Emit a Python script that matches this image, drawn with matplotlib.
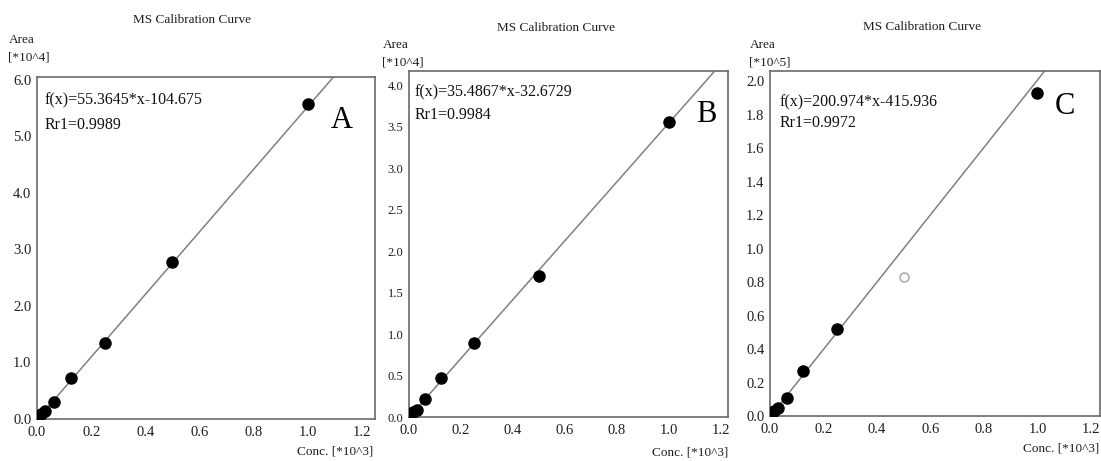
import numpy as np
import matplotlib
matplotlib.use("Agg")
import matplotlib.pyplot as plt

plt.rcParams['font.family'] = ['Liberation Serif', 'DejaVu Serif']

# Calibration standards, concentration in units of 10^3
conc = [0.0078, 0.0156, 0.03125, 0.0625, 0.125, 0.25, 0.5, 1.0]

# Peak areas for each compound (scaled units shown on the axis)
area_a = [0.03, 0.08, 0.14, 0.30, 0.72, 1.35, 2.78, 5.58]
area_b = [0.03, 0.06, 0.09, 0.22, 0.47, 0.89, 1.70, 3.55]
area_c = [0.015, 0.03, 0.05, 0.11, 0.27, 0.52, 0.83, 1.93]
excluded_c = [False, False, False, False, False, False, True, False]

# Regression parameters (raw units)
slope = [55.3645, 35.4867, 200.974]
intercept = [-104.675, -32.6729, -415.936]
r_value = ["0.9989", "0.9984", "0.9972"]
y_scale_exp = [4, 4, 5]
panel_letters = ["A", "B", "C"]

y_ticks = [
    [0.0, 1.0, 2.0, 3.0, 4.0, 5.0, 6.0],
    [0.0, 0.5, 1.0, 1.5, 2.0, 2.5, 3.0, 3.5, 4.0],
    [0.0, 0.2, 0.4, 0.6, 0.8, 1.0, 1.2, 1.4, 1.6, 1.8, 2.0],
]
y_top = [6.05, 4.17, 2.06]
x_ticks = [0.0, 0.2, 0.4, 0.6, 0.8, 1.0, 1.2]
x_right = [1.248, 1.227, 1.234]

W, H = 1101, 461
fig = plt.figure(figsize=(W / 100, H / 100), dpi=100)

# axes boxes in pixels: left, right, top, bottom
boxes = [(37, 375, 77, 419), (409, 728, 71, 417), (770, 1100, 71, 416)]
titles_xy = [(192, 20), (556, 28), (922, 27)]
area_xy = [(9, 40), (383, 45), (750, 45)]
conc_xy = [(373, 451), (728, 452), (1099, 448)]
eq_xy = [(45, 100), (415, 92), (780, 102)]
eq_gap = [25, 23, 21]
letter_xy = [(342, 120), (706, 115), (1065, 107)]
ytick_size = [10.5, 9.0, 10.5]

areas = [area_a, area_b, area_c]
frame_col = "#6a6a6a"
text_col = "#1e1e1e"

def fx(px):
    return px / W

def fy(py):
    return 1 - py / H

for i in range(3):
    l, r, t, b = boxes[i]
    ax = fig.add_axes([fx(l), fy(b), (r - l) / W, (b - t) / H])
    ax.set_xlim(0, x_right[i])
    ax.set_ylim(0, y_top[i])
    for s in ax.spines.values():
        s.set_color(frame_col)
        s.set_linewidth(1.2)
    ax.set_xticks(x_ticks)
    ax.set_xticklabels([f"{v:.1f}" for v in x_ticks])
    ax.set_yticks(y_ticks[i])
    ax.set_yticklabels([f"{v:.1f}" for v in y_ticks[i]])
    ax.tick_params(length=0, colors=text_col)
    ax.tick_params(axis="x", pad=5, labelsize=10.5)
    ax.tick_params(axis="y", pad=4, labelsize=ytick_size[i])

    # regression line
    xs = np.linspace(0, x_right[i], 200)
    ys = (slope[i] * xs * 1e3 + intercept[i]) / 10 ** y_scale_exp[i]
    ax.plot(xs, ys, color="#808080", lw=1.1, zorder=2)

    # standards
    x_arr = np.array(conc)
    y_arr = np.array(areas[i])
    if i == 2:
        ex = np.array(excluded_c)
    else:
        ex = np.zeros(len(conc), dtype=bool)
    ax.plot(x_arr[~ex], y_arr[~ex], 'o', color="black", ms=8, zorder=3)
    if ex.any():
        ax.plot(x_arr[ex], y_arr[ex], 'o', mfc="white", mec="#a0a0a0",
                mew=1.0, ms=6.5, zorder=3)

    # texts
    tx, ty = titles_xy[i]
    fig.text(fx(tx), fy(ty), "MS Calibration Curve", ha="center", va="center",
             fontsize=9.5, color=text_col)
    axx, axy = area_xy[i]
    fig.text(fx(axx), fy(axy), "Area", ha="left", va="center", fontsize=9.5,
             color=text_col)
    fig.text(fx(axx - 1), fy(axy + 17), f"[*10^{y_scale_exp[i]}]", ha="left",
             va="center", fontsize=9.5, color=text_col)
    cx, cy = conc_xy[i]
    fig.text(fx(cx), fy(cy), "Conc. [*10^3]", ha="right", va="center",
             fontsize=9.5, color=text_col)
    ex_, ey_ = eq_xy[i]
    sign = "-" if intercept[i] < 0 else "+"
    fig.text(fx(ex_), fy(ey_), f"f(x)={slope[i]:g}*x{sign}{abs(intercept[i]):g}",
             ha="left", va="center", fontsize=11.5, color="#111111")
    fig.text(fx(ex_), fy(ey_ + eq_gap[i]), f"Rr1={r_value[i]}",
             ha="left", va="center", fontsize=11.5, color="#111111")
    lx, ly = letter_xy[i]
    fig.text(fx(lx), fy(ly), panel_letters[i], ha="center", va="center",
             fontsize=22, color="black")

fig.savefig("out.png", dpi=100)
